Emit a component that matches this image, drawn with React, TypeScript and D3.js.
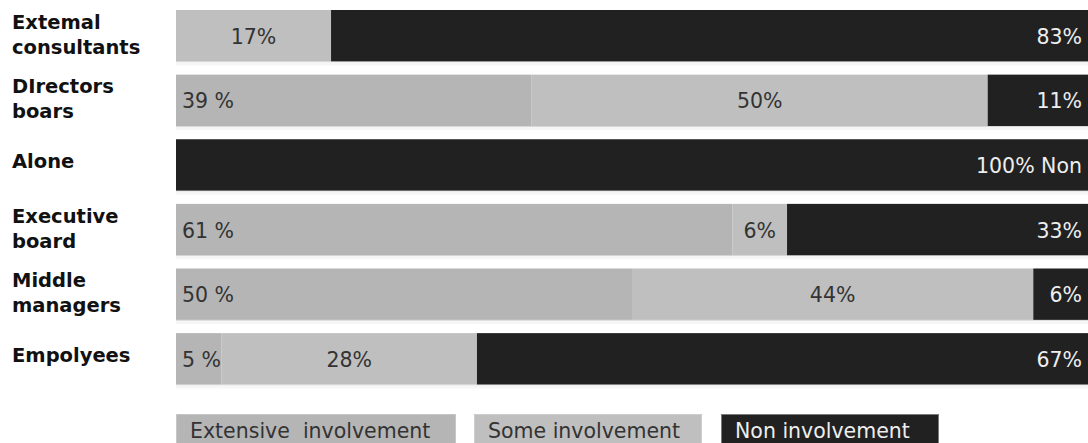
import React from "react";
import * as d3 from "d3";

const categories = ["Extemal consultants", "DIrectors boars", "Alone", "Executive board", "Middle managers", "Empolyees"];
const categoryLines = [["Extemal", "consultants"], ["DIrectors", "boars"], ["Alone"], ["Executive", "board"], ["Middle", "managers"], ["Empolyees"]];

const seriesKeys = ["extensive", "some", "non"];
const seriesNames = ["Extensive  involvement", "Some involvement", "Non involvement"];

const extensiveValues = [0, 39, 0, 61, 50, 5];
const someValues = [17, 50, 0, 6, 44, 28];
const nonValues = [83, 11, 100, 33, 6, 67];

const extensiveLabels = ["", "39 %", "", "61 %", "50 %", "5 %"];
const someLabels = ["17%", "50%", "", "6%", "44%", "28%"];
const nonLabels = ["83%", "11%", "100% Non", "33%", "6%", "67%"];

const W = 1088;
const H = 443;
const FONT = "'DejaVu Sans', Verdana, sans-serif";
const fills: Record<string, string> = { extensive: "#b5b5b5", some: "#bfbfbf", non: "#212121" };
const textFills: Record<string, string> = { extensive: "#333333", some: "#333333", non: "#eeeeee" };
const legendStrokes: Record<string, string> = { extensive: "#c6c6c6", some: "#cdcdcd", non: "#7a7a7a" };

export default function App() {
  const rows = categories.map((c, i) => ({
    category: c,
    extensive: extensiveValues[i],
    some: someValues[i],
    non: nonValues[i],
  }));
  const labels: Record<string, string[]> = { extensive: extensiveLabels, some: someLabels, non: nonLabels };

  const stack = d3.stack<any>().keys(seriesKeys);
  const layers = stack(rows);

  const x = d3.scaleLinear().domain([0, 100]).range([176, 1088]);
  const y = d3.scaleBand<string>().domain(categories).range([10, 384.5]).paddingInner(0.205).paddingOuter(0);
  const bw = y.bandwidth();

  const legendX = [176, 474, 721];
  const legendW = [280, 228, 218];

  return (
    <svg width={W} height={H} style={{ position: "absolute", left: 0, top: 0, background: "#fff" }} fontFamily={FONT}>
      {/* bar bottom shadows */}
      {categories.map((c) => (
        <g key={"sh" + c}>
          <rect x={x(0)} y={(y(c) as number) + bw} width={x(100) - x(0)} height={1} fill="#d8d8d8" />
          <rect x={x(0)} y={(y(c) as number) + bw + 1} width={x(100) - x(0)} height={3} fill="#f6f6f6" />
        </g>
      ))}
      {layers.map((layer) => (
        <g key={layer.key}>
          {layer.map((d, i) => {
            const w = x(d[1]) - x(d[0]);
            if (w <= 0) return null;
            return (
              <rect key={i} x={x(d[0])} y={y(categories[i])} width={w} height={bw} fill={fills[layer.key]} />
            );
          })}
        </g>
      ))}
      {layers.map((layer) => (
        <g key={"t" + layer.key}>
          {layer.map((d, i) => {
            const txt = labels[layer.key][i];
            if (!txt) return null;
            const cy = (y(categories[i]) as number) + bw / 2 + 8;
            let tx = 0;
            let anchor: "start" | "middle" | "end" = "middle";
            if (layer.key === "extensive") {
              tx = x(d[0]) + 6;
              anchor = "start";
            } else if (layer.key === "some") {
              tx = (x(d[0]) + x(d[1])) / 2;
              anchor = "middle";
            } else {
              tx = x(d[1]) - 6;
              anchor = "end";
            }
            return (
              <text key={i} x={tx} y={cy} textAnchor={anchor} fontSize={20.5} fill={textFills[layer.key]}>
                {txt}
              </text>
            );
          })}
        </g>
      ))}
      {categoryLines.map((lines, i) => {
        const cy = (y(categories[i]) as number) + bw / 2;
        return (
          <text key={"c" + i} x={12} fontSize={19.5} fontWeight="bold" fill="#111">
            {lines.length === 1 ? (
              <tspan x={12} y={cy + 3}>{lines[0]}</tspan>
            ) : (
              lines.map((l, j) => (
                <tspan key={j} x={12} y={cy - 7 + j * 25}>{l}</tspan>
              ))
            )}
          </text>
        );
      })}
      {seriesKeys.map((k, i) => (
        <g key={"lg" + k}>
          <rect x={legendX[i] + 0.5} y={414.5} width={legendW[i] - 1} height={40} fill={fills[k]} stroke={legendStrokes[k]} strokeWidth={1} />
          <text x={legendX[i] + 14} y={438} fontSize={20.5} fill={textFills[k]} style={{ whiteSpace: "pre" }}>
            {seriesNames[i]}
          </text>
        </g>
      ))}
    </svg>
  );
}
